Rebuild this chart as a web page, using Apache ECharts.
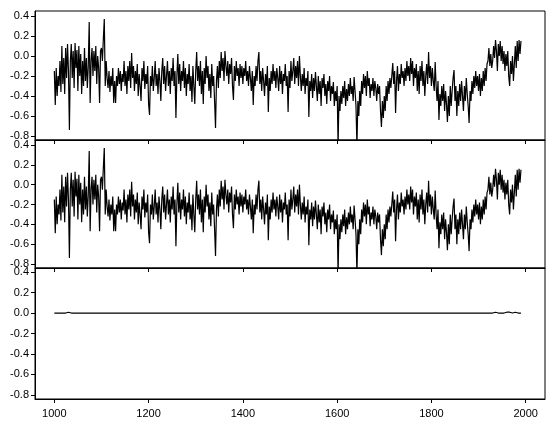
<!DOCTYPE html>
<html>
<head>
<meta charset="utf-8">
<script src="https://cdn.jsdelivr.net/npm/echarts@6/dist/echarts.min.js"></script>
<style>
html,body{margin:0;padding:0;background:#fff;}
#chart{width:556px;height:432px;}
</style>
</head>
<body>
<div id="chart"></div>
<script>
// Year sampling of the reconstruction (every 2 years, 1000..1990)
var startYear = 1000;
var yearStep = 2;

// Reconstructed anomaly values (panel 1 and panel 2 are the same curve)
var recon = [
  // 1000-1048
  -0.15,-0.49,-0.12,-0.40,-0.20,-0.30,-0.05,-0.36,0.10,-0.28,-0.02,-0.38,0.08,-0.22,0.12,-0.15,-0.74,-0.05,0.12,-0.22,0.05,-0.32,0.13,-0.12,0.06,
  // 1050-1098
  -0.35,0.10,-0.20,0.02,-0.38,-0.05,-0.30,0.08,-0.25,-0.02,-0.32,-0.10,0.34,-0.47,-0.05,0.08,-0.20,0.05,-0.15,0.10,-0.28,0.00,-0.12,-0.47,0.05,
  // 1100-1148
  0.08,-0.05,0.17,0.37,-0.30,-0.05,-0.22,-0.32,-0.15,-0.36,-0.20,-0.30,-0.12,-0.47,-0.25,-0.47,-0.20,-0.30,-0.12,-0.28,-0.15,-0.35,-0.18,-0.26,-0.05,
  // 1150-1198
  -0.30,-0.15,-0.38,-0.10,-0.25,-0.05,-0.32,0.03,-0.22,-0.10,-0.35,-0.15,-0.28,-0.08,-0.40,-0.18,-0.30,-0.45,-0.12,-0.25,-0.05,-0.33,-0.18,-0.28,-0.10,
  // 1200-1248
  -0.48,-0.59,-0.20,-0.30,-0.10,-0.35,-0.22,-0.05,-0.30,-0.18,-0.38,-0.12,-0.25,-0.45,-0.15,-0.02,-0.28,-0.10,-0.35,-0.20,-0.05,-0.30,-0.15,-0.38,-0.12,
  // 1250-1298
  -0.25,-0.02,-0.30,-0.15,-0.62,-0.20,0.02,-0.28,-0.08,-0.35,-0.15,-0.25,-0.05,-0.32,-0.12,-0.40,-0.18,-0.28,-0.08,-0.35,-0.20,-0.46,-0.10,-0.30,-0.48,
  // 1300-1348
  -0.15,0.04,-0.25,-0.10,-0.30,-0.05,-0.38,-0.15,-0.48,-0.12,-0.28,0.00,-0.22,-0.10,-0.35,-0.18,-0.42,-0.08,-0.30,-0.20,-0.45,-0.72,-0.25,-0.10,-0.32,
  // 1350-1398
  -0.05,-0.22,0.04,-0.15,-0.02,-0.25,0.05,-0.10,-0.20,-0.05,-0.28,-0.08,-0.18,-0.02,-0.30,-0.44,-0.10,-0.25,-0.05,-0.20,-0.12,-0.30,-0.08,-0.22,-0.10,
  // 1400-1448
  -0.28,-0.12,-0.20,-0.05,-0.25,-0.15,-0.30,-0.10,-0.22,-0.35,-0.15,-0.49,-0.20,-0.30,-0.10,-0.25,-0.05,0.04,-0.28,-0.15,-0.35,-0.12,-0.25,-0.40,-0.18,
  // 1450-1498
  -0.30,-0.10,-0.56,-0.22,-0.35,-0.15,-0.28,-0.08,-0.25,-0.15,-0.32,-0.12,-0.22,-0.35,-0.10,-0.28,-0.15,-0.38,-0.18,-0.25,-0.08,-0.30,-0.20,-0.56,-0.15,
  // 1500-1548
  -0.32,-0.05,-0.25,-0.15,-0.02,-0.28,-0.10,-0.22,-0.05,-0.30,0.00,-0.20,-0.35,-0.18,-0.30,-0.12,-0.38,-0.22,-0.30,-0.15,-0.61,-0.25,-0.35,-0.18,-0.42,
  // 1550-1598
  -0.22,-0.35,-0.16,-0.30,-0.45,-0.20,-0.38,-0.25,-0.50,-0.22,-0.32,-0.18,-0.40,-0.28,-0.48,-0.25,-0.35,-0.20,-0.45,-0.30,-0.38,-0.26,-0.50,-0.35,-0.45,
  // 1600-1648
  -0.30,-0.90,-0.40,-0.55,-0.35,-0.48,-0.30,-0.42,-0.25,-0.50,-0.33,-0.45,-0.28,-0.40,-0.22,-0.38,-0.30,-0.45,-0.21,-0.35,-0.50,-0.90,-0.45,-0.60,-0.35,
  // 1650-1698
  -0.50,-0.25,-0.38,-0.18,-0.32,-0.20,-0.40,-0.15,-0.30,-0.22,-0.42,-0.28,-0.35,-0.22,-0.40,-0.25,-0.32,-0.45,-0.28,-0.38,-0.30,-0.55,-0.71,-0.45,-0.62,
  // 1700-1748
  -0.40,-0.55,-0.30,-0.45,-0.25,-0.38,-0.22,-0.32,-0.20,-0.07,-0.28,-0.15,-0.57,-0.25,-0.10,-0.35,-0.18,-0.28,-0.08,-0.22,-0.15,-0.30,-0.12,-0.25,-0.05,
  // 1750-1798
  -0.20,-0.10,-0.25,-0.02,-0.18,-0.05,-0.30,-0.12,-0.22,-0.08,-0.35,-0.15,-0.38,-0.10,-0.25,-0.05,-0.30,-0.15,-0.40,-0.20,-0.08,-0.28,0.04,-0.22,-0.10,
  // 1800-1848
  -0.30,-0.12,-0.25,-0.35,-0.06,-0.30,-0.45,-0.25,-0.64,-0.38,-0.50,-0.30,-0.45,-0.28,-0.55,-0.35,-0.48,-0.66,-0.40,-0.60,-0.30,-0.50,-0.35,-0.22,-0.14,
  // 1850-1898
  -0.45,-0.30,-0.60,-0.35,-0.50,-0.28,-0.45,-0.25,-0.40,-0.55,-0.30,-0.45,-0.22,-0.38,-0.50,-0.67,-0.35,-0.45,-0.25,-0.38,-0.20,-0.32,-0.15,-0.30,-0.20,
  // 1900-1948
  -0.35,-0.18,-0.40,-0.22,-0.35,-0.15,-0.30,-0.12,-0.25,-0.08,-0.05,0.08,-0.10,0.02,-0.12,-0.05,0.10,-0.02,0.16,0.05,-0.15,0.12,0.00,0.15,-0.05,
  // 1950-1990
  0.10,-0.08,0.05,-0.15,0.02,-0.10,0.05,-0.20,-0.30,-0.05,-0.18,0.00,-0.25,-0.08,0.10,-0.12,0.15,-0.05,0.16,0.02,0.15
];

// Tiny non-zero residuals (panel 3), keyed by year; all other years are 0
var residualYears  = [1030, 1034, 1040, 1074, 1106, 1364, 1936, 1938, 1960, 1966, 1978, 1988];
var residualValues = [0.008, 0.008, 0.008, 0.008, 0.008, 0.008, 0.008, 0.008, 0.008, 0.008, 0.008, 0.008];

// Axis tick labels
var xTicks = [1000, 1200, 1400, 1600, 1800, 2000];
var yTicks = [-0.8, -0.6, -0.4, -0.2, 0.0, 0.2, 0.4];

var reconData = recon.map(function (v, i) { return [startYear + i * yearStep, v]; });
var residData = recon.map(function (v, i) {
  var yr = startYear + i * yearStep;
  var k = residualYears.indexOf(yr);
  return [yr, k >= 0 ? residualValues[k] : 0];
});

var font = 'Liberation Sans, Arial, sans-serif';
var grids = [
  {left: 35, width: 510, top: 11, height: 129},
  {left: 35, width: 510, top: 140, height: 128},
  {left: 35, width: 510, top: 268, height: 131}
];
var yMax = [0.45, 0.45, 0.44];

function xAxis(i, showLabels) {
  return {
    type: 'value', gridIndex: i, min: 959, max: 2041,
    axisLine: {show: true, onZero: false, lineStyle: {color: '#000', width: 1}},
    axisTick: {show: true, inside: false, length: 4, customValues: xTicks, lineStyle: {color: '#000'}},
    axisLabel: {show: showLabels, customValues: xTicks, color: '#000', fontFamily: font, fontSize: 11, margin: 9,
      formatter: function (v) { return String(Math.round(v)); }},
    splitLine: {show: false}
  };
}
function yAxis(i) {
  return {
    type: 'value', gridIndex: i, min: -0.84, max: yMax[i],
    axisLine: {show: true, onZero: false, lineStyle: {color: '#000', width: 1}},
    axisTick: {show: true, inside: false, length: 4, customValues: yTicks, lineStyle: {color: '#000'}},
    axisLabel: {show: true, customValues: yTicks, color: '#000', fontFamily: font, fontSize: 11, margin: 6,
      formatter: function (v) { return Number(v).toFixed(1); }},
    splitLine: {show: false}
  };
}

var chart = echarts.init(document.getElementById('chart'), null, {renderer: 'canvas'});
chart.setOption({
  animation: false,
  backgroundColor: '#fff',
  grid: grids.map(function (g) {
    return Object.assign({show: true, borderColor: '#000', borderWidth: 1, backgroundColor: 'transparent'}, g);
  }),
  xAxis: [xAxis(0, false), xAxis(1, false), xAxis(2, true)],
  yAxis: [yAxis(0), yAxis(1), yAxis(2)],
  series: [
    {type: 'line', xAxisIndex: 0, yAxisIndex: 0, data: reconData, showSymbol: false, clip: true,
     lineStyle: {color: '#000', width: 1.2}},
    {type: 'line', xAxisIndex: 1, yAxisIndex: 1, data: reconData, showSymbol: false, clip: true,
     lineStyle: {color: '#000', width: 1.2}},
    {type: 'line', xAxisIndex: 2, yAxisIndex: 2, data: residData, showSymbol: false, clip: true,
     lineStyle: {color: '#000', width: 1.2}}
  ]
});
</script>
</body>
</html>
